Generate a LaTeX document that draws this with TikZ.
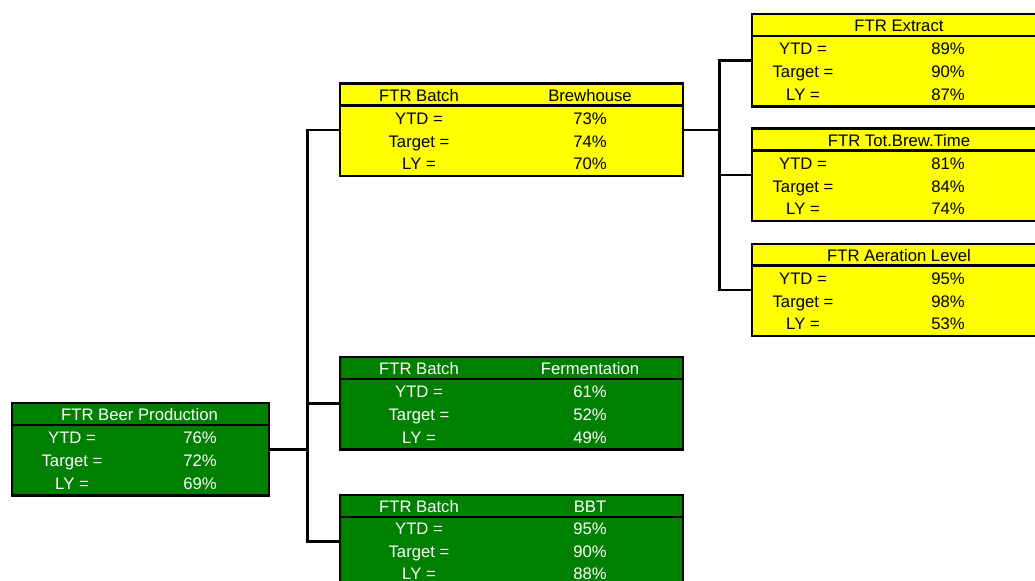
\documentclass[tikz,border=0pt]{standalone}
\usepackage{fontspec}
\setmainfont{Liberation Sans}
\definecolor{xlgreen}{RGB}{0,128,0}
\definecolor{xlyellow}{RGB}{255,255,0}

\begin{document}
\begin{tikzpicture}[x=0.02cm,y=-0.02cm,
  kpibox/.style={draw=black,line width=1.4pt,rectangle,anchor=north west,minimum height=1.85cm,inner sep=0pt},
  gbox/.style={kpibox,fill=xlgreen},
  ybox/.style={kpibox,fill=xlyellow},
  txt/.style={inner sep=0pt,text height=6.8pt,text depth=0pt,font=\fontsize{9.5}{11}\selectfont},
  gtxt/.style={txt,text=white},
  ytxt/.style={txt,text=black},
  hdr/.style={line width=1.3pt},
  conn/.style={line width=1.5pt}]
\useasboundingbox (0,0) rectangle (1035,581);
\clip (0,0) rectangle (1035,581);

% level 0
\node[gbox,minimum width=5.14cm] (root) at (11,402) {};
\draw[hdr] ([yshift=-0.46cm]root.north west) -- ([yshift=-0.46cm]root.north east);
\node[gtxt] (root-h) at (139.5,415) {FTR Beer Production};
\foreach \y/\a/\b [count=\i] in {438/YTD =/76\%,461/Target =/72\%,483.5/LY =/69\%}{
  \node[gtxt] (root-a\i) at (72,\y) {\a};
  \node[gtxt] (root-b\i) at (200,\y) {\b};
}

% level 1
\node[ybox,minimum width=6.86cm] (brew) at (339,82.5) {};
\draw[hdr] ([yshift=-0.46cm]brew.north west) -- ([yshift=-0.46cm]brew.north east);
\node[ytxt] (brew-h1) at (419,95.5) {FTR Batch};
\node[ytxt] (brew-h2) at (590,95.5) {Brewhouse};
\foreach \y/\a/\b [count=\i] in {118.5/YTD =/73\%,141.5/Target =/74\%,164/LY =/70\%}{
  \node[ytxt] (brew-a\i) at (419,\y) {\a};
  \node[ytxt] (brew-b\i) at (590,\y) {\b};
}

\node[gbox,minimum width=6.86cm] (ferm) at (339,356) {};
\draw[hdr] ([yshift=-0.46cm]ferm.north west) -- ([yshift=-0.46cm]ferm.north east);
\node[gtxt] (ferm-h1) at (419,369) {FTR Batch};
\node[gtxt] (ferm-h2) at (590,369) {Fermentation};
\foreach \y/\a/\b [count=\i] in {392/YTD =/61\%,415/Target =/52\%,437.5/LY =/49\%}{
  \node[gtxt] (ferm-a\i) at (419,\y) {\a};
  \node[gtxt] (ferm-b\i) at (590,\y) {\b};
}

\node[gbox,minimum width=6.86cm] (bbt) at (339,494) {};
\draw[hdr] ([yshift=-0.46cm]bbt.north west) -- ([yshift=-0.46cm]bbt.north east);
\node[gtxt] (bbt-h1) at (419,506.5) {FTR Batch};
\node[gtxt] (bbt-h2) at (590,506.5) {BBT};
\foreach \y/\a/\b [count=\i] in {529/YTD =/95\%,552/Target =/90\%,573.5/LY =/88\%}{
  \node[gtxt] (bbt-a\i) at (419,\y) {\a};
  \node[gtxt] (bbt-b\i) at (590,\y) {\b};
}

% level 2
\node[ybox,minimum width=5.92cm] (extr) at (751,13) {};
\draw[hdr] ([yshift=-0.46cm]extr.north west) -- ([yshift=-0.46cm]extr.north east);
\node[ytxt] (extr-h) at (899,26) {FTR Extract};
\foreach \y/\a/\b [count=\i] in {49/YTD =/89\%,72/Target =/90\%,94.5/LY =/87\%}{
  \node[ytxt] (extr-a\i) at (803,\y) {\a};
  \node[ytxt] (extr-b\i) at (948,\y) {\b};
}

\node[ybox,minimum width=5.92cm] (tbt) at (751,127.5) {};
\draw[hdr] ([yshift=-0.46cm]tbt.north west) -- ([yshift=-0.46cm]tbt.north east);
\node[ytxt] (tbt-h) at (899,140.5) {FTR Tot.Brew.Time};
\foreach \y/\a/\b [count=\i] in {163.5/YTD =/81\%,186.5/Target =/84\%,209/LY =/74\%}{
  \node[ytxt] (tbt-a\i) at (803,\y) {\a};
  \node[ytxt] (tbt-b\i) at (948,\y) {\b};
}

\node[ybox,minimum width=5.92cm] (aer) at (751,242.5) {};
\draw[hdr] ([yshift=-0.46cm]aer.north west) -- ([yshift=-0.46cm]aer.north east);
\node[ytxt] (aer-h) at (899,255.5) {FTR Aeration Level};
\foreach \y/\a/\b [count=\i] in {278.5/YTD =/95\%,301.5/Target =/98\%,324/LY =/53\%}{
  \node[ytxt] (aer-a\i) at (803,\y) {\a};
  \node[ytxt] (aer-b\i) at (948,\y) {\b};
}

% connectors
\draw[conn] (root.east) -- ++(37,0) coordinate (bus1);
\draw[conn] (bus1) |- (brew.west);
\draw[conn] (bus1) |- (ferm.west);
\draw[conn] (bus1) |- (bbt.west);
\draw[conn] (brew.east) -- ++(35,0) coordinate (bus2);
\draw[conn] (bus2) |- (extr.west);
\draw[conn] (bus2) |- (tbt.west);
\draw[conn] (bus2) |- (aer.west);
\end{tikzpicture}
\end{document}
